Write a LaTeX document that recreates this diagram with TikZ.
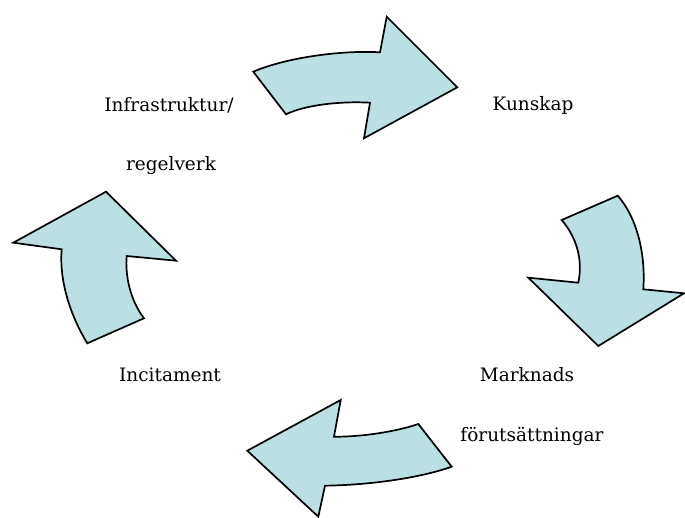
\documentclass[tikz,border=0pt]{standalone}
\usepackage{fontspec}
\setmainfont{DejaVu Serif}
\definecolor{arrowfill}{RGB}{187,224,227}
\begin{document}
\begin{tikzpicture}
[x=1pt,y=-1pt,
  arrowdecorate/.style={draw=black,fill=arrowfill,line width=1.7pt,line join=miter},%
  textdecorate/.style={inner sep=0pt,font=\fontsize{18.5}{21}\selectfont}]
\useasboundingbox (0,0) rectangle (685,518);
%% curved arrows
% top: towards Kunskap
\path[arrowdecorate] (253.3,71.7) .. controls (285,58) and (340,50) .. (380,52.3)
  -- (386.7,16.7) -- (457.3,87.3) -- (364,138.3) -- (370,102.7)
  .. controls (340,101) and (305,105) .. (286,114.3) -- cycle;
% right: towards Marknads
\path[arrowdecorate] (561.7,220) -- (617.7,195.7)
  .. controls (635,215) and (646,250) .. (643.3,289.3)
  -- (684,293.3) -- (598.3,346) -- (528.3,277.7) -- (578.3,282.7)
  .. controls (583,260) and (577,238) .. (561.7,220) -- cycle;
% bottom: towards Incitament
\path[arrowdecorate] (418.3,424) -- (451.7,466.7)
  .. controls (420,478) and (370,485) .. (325,485.7)
  -- (318.3,516.7) -- (247.3,450.7) -- (340.7,400) -- (334,436.7)
  .. controls (360,437) and (395,432) .. (418.3,424) -- cycle;
% left: towards Infrastruktur
\path[arrowdecorate] (144,318.3) -- (87.3,343.3)
  .. controls (70,315) and (59,280) .. (61.7,249.3)
  -- (13.3,242.7) -- (106,191.7) -- (176,260.7) -- (126.7,256)
  .. controls (125,275) and (130,300) .. (144,318.3) -- cycle;
%% labels
\node (infra) at (169,105) [textdecorate] {Infrastruktur/};
\node (regel) at (171,166) [textdecorate] {regelverk};
\node (kunskap) at (533,105) [textdecorate] {Kunskap};
\node (marknads) at (527,375) [textdecorate] {Marknads};
\node (foruts) at (532,436) [textdecorate] {förutsättningar};
\node (incitament) at (170,375) [textdecorate] {Incitament};
\end{tikzpicture}
\end{document}
